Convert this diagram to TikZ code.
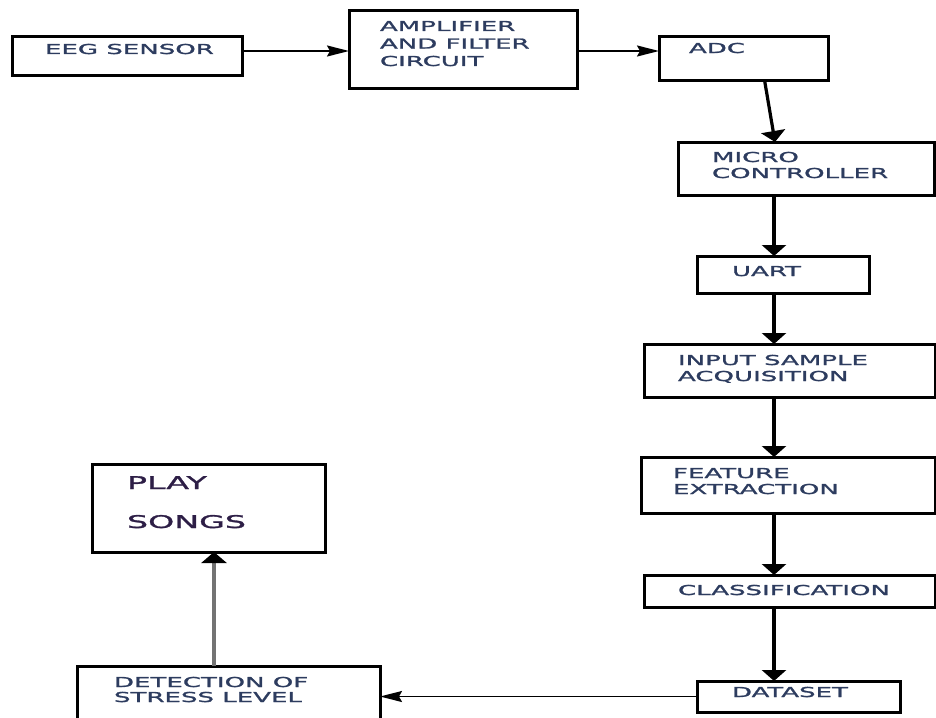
\documentclass[tikz,border=0pt]{standalone}
\usepackage{fontspec}
\usetikzlibrary{arrows.meta}
\newfontfamily\lbl[FakeStretch=1.9,FakeBold=1.6]{DejaVu Sans}
\definecolor{txtc}{RGB}{45,60,95}
\definecolor{playc}{RGB}{45,30,70}
\definecolor{linegray}{RGB}{115,115,115}
% #1 width, #2 height, #3 left pad, #4 first baseline from top, #5 baselineskip, #6 text
\newcommand\boxtxt[6]{\parbox[c][#2][t]{#1}{\raggedright\leftskip=#3\relax\baselineskip=#5\relax\rule{0pt}{#4}\ignorespaces #6}}
\tikzset{
  blk/.style={draw=black, line width=3pt, inner sep=0pt, outer sep=0pt, anchor=north west,
              text=txtc, font=\lbl\fontsize{13.7}{17.5}\selectfont},
  playblk/.style={blk, text=playc, font=\lbl\fontsize{17.5}{39}\selectfont},
  varr/.style={line width=3.2pt, -{Triangle[width=24pt,length=11pt]}},
  grayarr/.style={line width=3.2pt, draw=linegray, -{Triangle[width=25pt,length=11pt,color=black]}},
  harr/.style={line width=2pt, -{Stealth[length=22pt,width=11pt,inset=3pt]}},
  harrthin/.style={line width=1.7pt, -{Stealth[length=22pt,width=11pt,inset=3pt]}},
}
\begin{document}
\begin{tikzpicture}[x=1pt,y=-1pt]
\useasboundingbox (0,0) rectangle (936,717);
\clip (0,0) rectangle (936,717);
\node[blk] (eeg) at (12,37) {\boxtxt{230pt}{38pt}{33pt}{17pt}{17.5pt}{EEG SENSOR}};
\node[blk] (amp) at (349,11) {\boxtxt{228pt}{77pt}{31pt}{20pt}{17.5pt}{AMPLIFIER\\AND FILTER\\CIRCUIT}};
\node[blk] (adc) at (659,37) {\boxtxt{169pt}{43pt}{30pt}{16pt}{17.5pt}{ADC}};
\node[blk] (micro) at (678,142) {\boxtxt{256pt}{53pt}{34pt}{20pt}{16pt}{MICRO\\CONTROLLER}};
\node[blk] (uart) at (697,256) {\boxtxt{172pt}{37pt}{35pt}{20pt}{16pt}{UART}};
\node[blk] (input) at (644,344) {\boxtxt{291pt}{53pt}{34pt}{21pt}{16pt}{INPUT SAMPLE\\ACQUISITION}};
\node[blk] (feat) at (641,457) {\boxtxt{294pt}{56pt}{32pt}{21pt}{16pt}{FEATURE\\EXTRACTION}};
\node[blk] (class) at (644,575) {\boxtxt{291pt}{32pt}{34pt}{20pt}{16pt}{CLASSIFICATION}};
\node[blk] (data) at (697,681) {\boxtxt{203pt}{31pt}{35pt}{16pt}{16pt}{DATASET}};
\node[blk] (detect) at (77,666) {\boxtxt{303pt}{60pt}{37pt}{21pt}{15pt}{DETECTION OF\\STRESS LEVEL}};
\node[playblk] (play) at (92,464) {\boxtxt{233pt}{88pt}{35pt}{25pt}{39pt}{PLAY\\SONGS}};
\coordinate (rowa) at (0,51);
\coordinate (colv) at (774,0);
\coordinate (colp) at (214,0);
\draw[harr] (eeg.east |- rowa) -- (amp.west |- rowa);
\draw[harr] (amp.east |- rowa) -- (adc.west |- rowa);
\draw[varr] ([xshift=21pt]adc.south) -- ([xshift=-31pt]micro.north);
\draw[varr] (micro.south -| colv) -- (uart.north -| colv);
\draw[varr] (uart.south -| colv) -- (input.north -| colv);
\draw[varr] (input.south -| colv) -- (feat.north -| colv);
\draw[varr] (feat.south -| colv) -- (class.north -| colv);
\draw[varr] (class.south -| colv) -- (data.north -| colv);
\draw[harrthin] (data.west) -- (detect.east |- data.west);
\draw[grayarr] (detect.north -| colp) -- (play.south -| colp);
\end{tikzpicture}
\end{document}
